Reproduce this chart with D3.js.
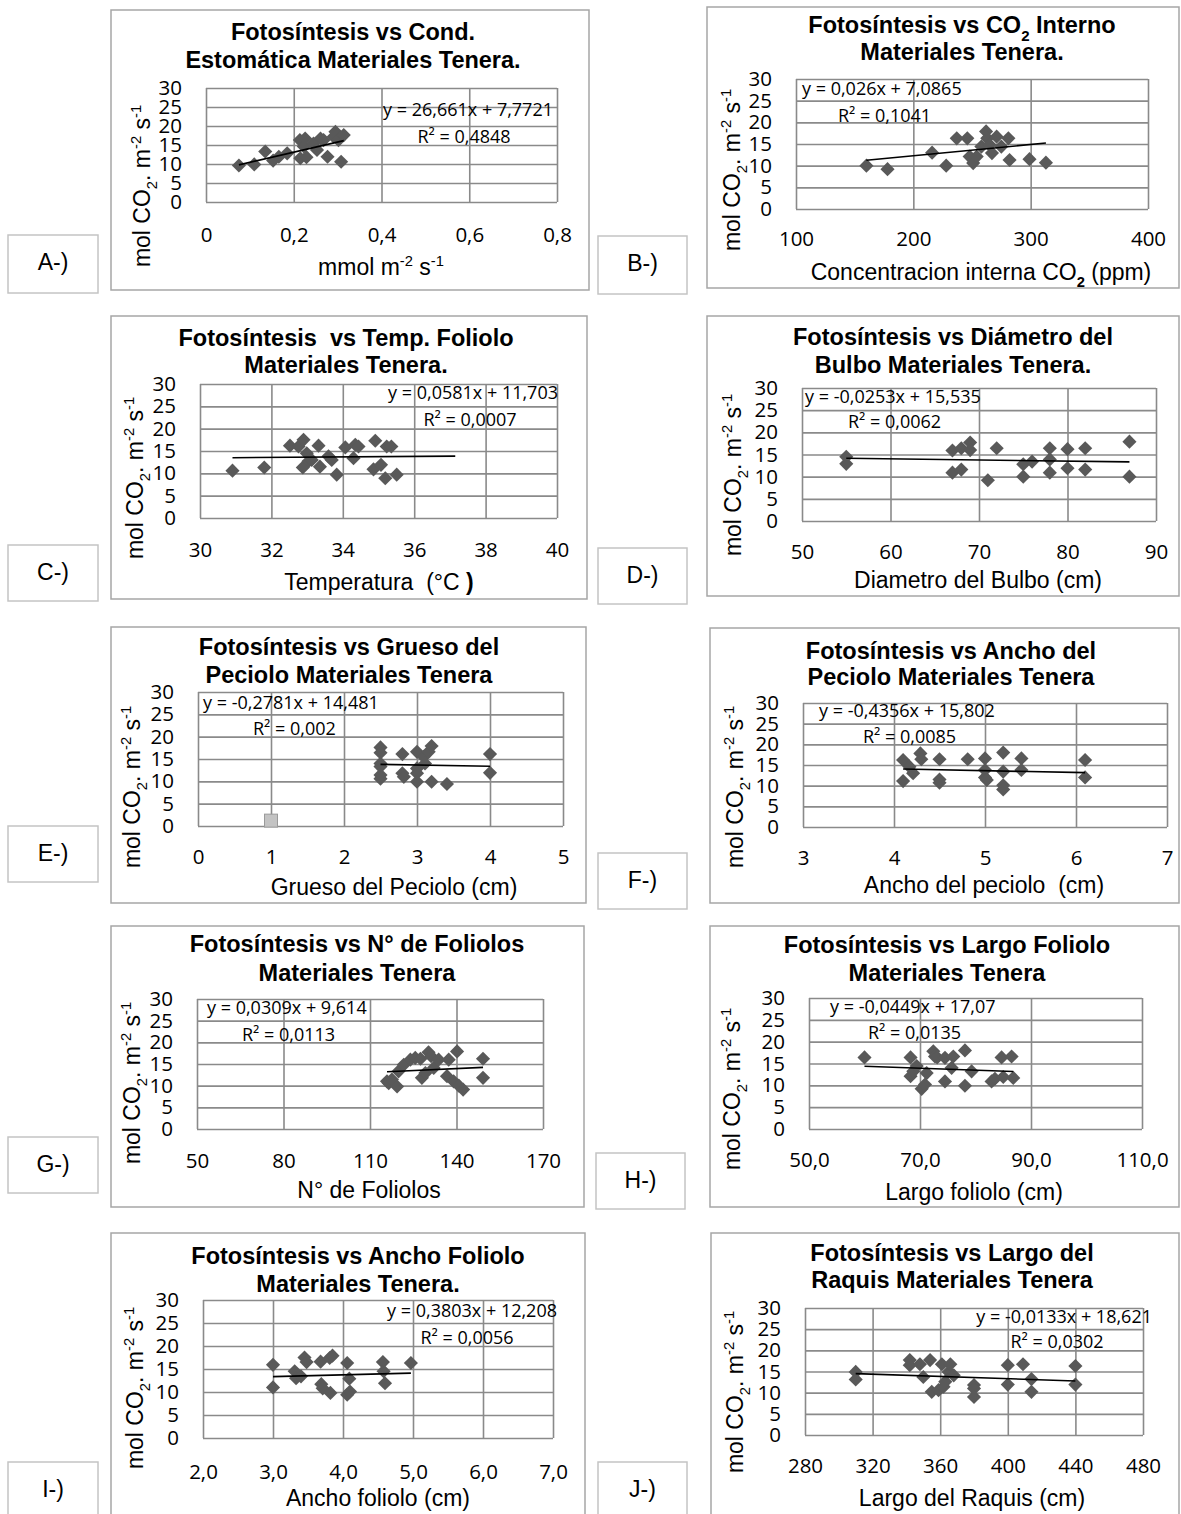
<!DOCTYPE html>
<html>
<head>
<meta charset="utf-8">
<script src="https://cdn.jsdelivr.net/npm/d3@7"></script>
<style>
  body { margin: 0; background: #fff; }
  svg { display: block; }
  text { white-space: pre; }
</style>
</head>
<body>
<svg id="fig" width="1181" height="1514"></svg>
<script>
// ---------- Data: photosynthesis (mol CO2 m-2 s-1) against each plant variable ----------
const yTicks = [0, 5, 10, 15, 20, 25, 30];

// A: stomatal conductance
const condX = [0.075, 0.11, 0.135, 0.153, 0.166, 0.185, 0.214, 0.215, 0.223, 0.226, 0.229, 0.245, 0.253, 0.261, 0.268, 0.277, 0.291, 0.295, 0.302, 0.308, 0.314];
const condY = [9.6, 9.9, 13.3, 10.9, 11.9, 12.8, 16.3, 11.5, 14.6, 16.7, 11.8, 15.4, 13.7, 16.7, 16.3, 11.9, 17.2, 18.5, 16.3, 10.6, 17.6];
const condTicks = [0, 0.2, 0.4, 0.6, 0.8];
const condTickLabels = ["0", "0,2", "0,4", "0,6", "0,8"];

// B: internal CO2
const co2X = [160, 178, 216, 228, 237, 246, 248, 251, 254, 258, 262, 263, 265, 267, 271, 275, 281, 282, 299, 313];
const co2Y = [10.0, 9.2, 13.0, 10.0, 16.3, 16.3, 12.1, 10.6, 12.1, 14.4, 17.9, 16.3, 14.8, 12.9, 16.7, 14.4, 16.3, 11.3, 11.5, 10.7];
const co2Ticks = [100, 200, 300, 400];
const co2TickLabels = ["100", "200", "300", "400"];

// C: leaflet temperature
const tempX = [30.91, 31.8, 32.52, 32.76, 32.9, 32.88, 32.99, 33.04, 33.13, 33.32, 33.36, 33.6, 33.69, 33.83, 34.07, 34.3, 34.35, 34.44, 34.86, 34.91, 35.07, 35.19, 35.23, 35.36, 35.51];
const tempY = [10.6, 11.3, 16.2, 16.0, 17.5, 11.3, 14.5, 12.7, 13.0, 16.2, 11.5, 13.8, 13.0, 9.7, 15.8, 13.4, 16.4, 16.0, 10.9, 17.3, 11.9, 8.9, 16.0, 16.0, 9.7];
const tempTicks = [30, 32, 34, 36, 38, 40];
const tempTickLabels = ["30", "32", "34", "36", "38", "40"];
const tempTrendSpan = [30.91, 37.15];

// D: bulb diameter
const bulboX = [55, 55, 67, 67, 68, 68, 69, 69, 71, 72, 75, 75, 76, 78, 78, 78, 80, 80, 82, 82, 87, 87];
const bulboY = [14.5, 12.9, 15.9, 10.9, 16.4, 11.6, 17.7, 16.0, 9.2, 16.4, 12.8, 10.0, 13.4, 16.4, 13.9, 10.9, 16.2, 11.9, 16.4, 11.6, 17.9, 10.0];
const bulboTicks = [50, 60, 70, 80, 90];
const bulboTickLabels = ["50", "60", "70", "80", "90"];

// E: petiole thickness (plus one extra point of a second series)
const gruesoX = [2.5, 2.5, 2.5, 2.5, 2.5, 2.5, 2.8, 2.8, 2.82, 3.0, 3.0, 3.0, 3.0, 3.09, 3.11, 3.16, 3.2, 3.2, 3.41, 4.0, 4.0];
const gruesoY = [17.6, 16.4, 14.0, 13.3, 11.4, 10.6, 16.1, 11.8, 11.0, 16.6, 12.9, 11.8, 9.9, 15.5, 14.0, 16.6, 17.9, 9.9, 9.4, 16.1, 11.9];
const gruesoExtraX = [1];
const gruesoExtraY = [1.2];
const gruesoTicks = [0, 1, 2, 3, 4, 5];
const gruesoTickLabels = ["0", "1", "2", "3", "4", "5"];

// F: petiole width
const anchoPecX = [4.1, 4.1, 4.17, 4.21, 4.29, 4.3, 4.5, 4.5, 4.5, 4.81, 5.0, 5.0, 5.0, 5.02, 5.2, 5.2, 5.2, 5.2, 5.4, 5.4, 6.1, 6.1];
const anchoPecY = [16.2, 11.1, 14.6, 13.0, 17.8, 16.4, 16.4, 11.5, 10.7, 16.4, 16.6, 13.8, 12.0, 11.4, 18.0, 13.4, 10.1, 9.1, 16.6, 13.8, 16.2, 12.0];
const anchoPecTicks = [3, 4, 5, 6, 7];
const anchoPecTickLabels = ["3", "4", "5", "6", "7"];

// G: number of leaflets
const foliolosX = [115.9, 116.5, 117.6, 119.4, 119.9, 121.7, 124, 125.7, 127.5, 128, 129.2, 130.3, 131.2, 132.1, 133.8, 136.7, 137.3, 139, 140.2, 140.8, 142.3, 149.2, 149.2];
const foliolosY = [11.0, 10.6, 11.4, 9.8, 13.3, 14.8, 16.0, 16.4, 16.2, 11.8, 12.9, 17.7, 16.8, 14.1, 16.0, 12.2, 16.0, 11.0, 17.9, 10.0, 9.1, 16.2, 11.8];
const foliolosTicks = [50, 80, 110, 140, 170];
const foliolosTickLabels = ["50", "80", "110", "140", "170"];

// H: leaflet length
const largoFolX = [60, 68.3, 68.3, 68.8, 69.4, 70.3, 70.9, 71.2, 72.4, 72.7, 73.1, 74.5, 74.5, 75.7, 76, 78.1, 78.1, 79.3, 82.9, 83.5, 84.7, 85, 86.5, 86.8];
const largoFolY = [16.4, 16.4, 12.1, 13.2, 14.4, 9.2, 10.2, 12.8, 17.8, 16.6, 16.4, 16.3, 10.9, 14.0, 16.6, 18.0, 9.9, 13.2, 10.9, 11.5, 16.4, 11.9, 16.6, 11.7];
const largoFolTicks = [50, 70, 90, 110];
const largoFolTickLabels = ["50,0", "70,0", "90,0", "110,0"];

// I: leaflet width
const anchoFolX = [3.0, 3.0, 3.31, 3.33, 3.4, 3.45, 3.48, 3.68, 3.69, 3.71, 3.81, 3.82, 3.85, 4.06, 4.06, 4.09, 4.1, 4.57, 4.58, 4.6, 4.97];
const anchoFolY = [15.9, 11.0, 14.5, 13.0, 13.4, 17.5, 16.5, 16.6, 11.7, 10.8, 17.4, 9.8, 17.9, 16.3, 9.4, 12.9, 10.1, 16.5, 14.5, 11.9, 16.3];
const anchoFolTicks = [2, 3, 4, 5, 6, 7];
const anchoFolTickLabels = ["2,0", "3,0", "4,0", "5,0", "6,0", "7,0"];

// J: rachis length
const raquisX = [310, 310, 342, 342, 348, 350, 354, 355, 359, 361, 362, 363, 365, 366, 368, 380, 380, 380, 400, 400, 409, 414, 414, 440, 440];
const raquisY = [14.9, 13.1, 17.7, 16.5, 16.7, 13.7, 17.7, 10.2, 10.6, 16.7, 11.4, 12.6, 14.9, 16.7, 14.1, 11.8, 11.0, 9.0, 16.5, 11.9, 16.7, 13.2, 10.2, 16.3, 11.9];
const raquisTicks = [280, 320, 360, 400, 440, 480];
const raquisTickLabels = ["280", "320", "360", "400", "440", "480"];

// Linear fits: slope, intercept, R²
const fitSlopes     = [26.661, 0.026, 0.0581, -0.0253, -0.2781, -0.4356, 0.0309, -0.0449, 0.3803, -0.0133];
const fitIntercepts = [7.7721, 7.0865, 11.703, 15.535, 14.481, 15.802, 9.614, 17.07, 12.208, 18.621];
const fitR2         = [0.4848, 0.1041, 0.0007, 0.0062, 0.002, 0.0085, 0.0113, 0.0135, 0.0056, 0.0302];

const panelLetters = ["A-)", "B-)", "C-)", "D-)", "E-)", "F-)", "G-)", "H-)", "I-)", "J-)"];
const panelTitles = [
  ["Fotosíntesis vs Cond.", "Estomática Materiales Tenera."],
  ["Fotosíntesis vs CO_{2} Interno", "Materiales Tenera."],
  ["Fotosíntesis  vs Temp. Foliolo", "Materiales Tenera."],
  ["Fotosíntesis vs Diámetro del", "Bulbo Materiales Tenera."],
  ["Fotosíntesis vs Grueso del", "Peciolo Materiales Tenera"],
  ["Fotosíntesis vs Ancho del", "Peciolo Materiales Tenera"],
  ["Fotosíntesis vs N° de Foliolos", "Materiales Tenera"],
  ["Fotosíntesis vs Largo Foliolo", "Materiales Tenera"],
  ["Fotosíntesis vs Ancho Foliolo", "Materiales Tenera."],
  ["Fotosíntesis vs Largo del", "Raquis Materiales Tenera"]
];
const xTitles = [
  "mmol m^{-2} s^{-1}",
  "Concentracion interna CO_b{2} (ppm)",
  "Temperatura  (°C *{)}",
  "Diametro del Bulbo (cm)",
  "Grueso del Peciolo (cm)",
  "Ancho del peciolo  (cm)",
  "N° de Foliolos",
  "Largo foliolo (cm)",
  "Ancho foliolo (cm)",
  "Largo del Raquis (cm)"
];
const yTitle = "mol CO_{2}. m^{-2} s^{-1}";

const seriesX = [condX, co2X, tempX, bulboX, gruesoX, anchoPecX, foliolosX, largoFolX, anchoFolX, raquisX];
const seriesY = [condY, co2Y, tempY, bulboY, gruesoY, anchoPecY, foliolosY, largoFolY, anchoFolY, raquisY];
const xTickVals = [condTicks, co2Ticks, tempTicks, bulboTicks, gruesoTicks, anchoPecTicks, foliolosTicks, largoFolTicks, anchoFolTicks, raquisTicks];
const xTickText = [condTickLabels, co2TickLabels, tempTickLabels, bulboTickLabels, gruesoTickLabels, anchoPecTickLabels, foliolosTickLabels, largoFolTickLabels, anchoFolTickLabels, raquisTickLabels];

// ---------- Layout (page pixels) ----------
// frame [x0,y0,x1,y1], plot [l,t,r,b], title centre x & line y's, tick row y,
// x-title centre, y-title centre, equation / R² anchors, panel-letter box.
const layout = [
  { frame: [111, 10, 589, 290], plot: [206, 88, 557, 202], tx: 353, ty: [32, 60], xtY: 235, xT: [381, 267], yT: [142, 186],
    eq: ["end", 553, 110], r2: ["middle", 464, 137], box: [8, 235, 90, 58] },
  { frame: [707, 7, 1179, 288], plot: [796, 79, 1148, 209], tx: 962, ty: [25, 52], xtY: 239, xT: [981, 272], yT: [732, 170],
    eq: ["start", 802, 89], r2: ["start", 838, 116], box: [598, 236, 89, 58] },
  { frame: [111, 316, 587, 599], plot: [200, 384, 557, 518], tx: 346, ty: [338, 365], xtY: 550, xT: [379, 582], yT: [135, 478],
    eq: ["end", 558, 393], r2: ["middle", 470, 420], box: [8, 545, 90, 56] },
  { frame: [707, 316, 1179, 596], plot: [802, 388, 1156, 521], tx: 953, ty: [337, 365], xtY: 552, xT: [978, 580], yT: [733, 475],
    eq: ["start", 805, 397], r2: ["start", 848, 422], box: [598, 548, 89, 56] },
  { frame: [111, 627, 586, 903], plot: [198, 692, 563, 826], tx: 349, ty: [647, 675], xtY: 857, xT: [394, 887], yT: [132, 787],
    eq: ["start", 203, 703], r2: ["start", 253, 729], box: [8, 826, 90, 56] },
  { frame: [710, 628, 1179, 903], plot: [803, 703, 1167, 827], tx: 951, ty: [651, 677], xtY: 858, xT: [984, 885], yT: [735, 787],
    eq: ["start", 819, 711], r2: ["start", 863, 737], box: [598, 853, 89, 56] },
  { frame: [111, 926, 584, 1207], plot: [197, 999, 543, 1129], tx: 357, ty: [944, 973], xtY: 1161, xT: [369, 1190], yT: [132, 1083],
    eq: ["start", 207, 1008], r2: ["start", 242, 1035], box: [8, 1137, 90, 56] },
  { frame: [710, 926, 1179, 1207], plot: [809, 998, 1142, 1129], tx: 947, ty: [945, 973], xtY: 1160, xT: [974, 1192], yT: [732, 1089],
    eq: ["start", 830, 1007], r2: ["start", 868, 1033], box: [596, 1153, 89, 56] },
  { frame: [111, 1233, 585, 1530], plot: [203, 1300, 553, 1438], tx: 358, ty: [1256, 1284], xtY: 1472, xT: [378, 1498], yT: [135, 1388],
    eq: ["end", 557, 1311], r2: ["middle", 467, 1338], box: [8, 1462, 90, 60] },
  { frame: [711, 1233, 1179, 1530], plot: [805, 1308, 1143, 1435], tx: 952, ty: [1253, 1280], xtY: 1466, xT: [972, 1498], yT: [735, 1392],
    eq: ["end", 1152, 1317], r2: ["middle", 1057, 1342], box: [598, 1462, 89, 60] }
];

// ---------- Styles ----------
const SANS = "'Liberation Sans', Arial, sans-serif";
const NUMF = "'Open Sans', sans-serif";
const GRID = "#8a8a8a";
const FRAME = "#a6a6a6";
const MARK = "#595959";

const svg = d3.select("#fig");
svg.append("rect").attr("width", 1181).attr("height", 1514).attr("fill", "#fff");

const dec = v => String(v).replace(".", ",");

// Excel-style diamond: a square turned 45°
const diamond = {
  draw(ctx, size) {
    const r = Math.sqrt(size / 2);
    ctx.moveTo(0, -r); ctx.lineTo(r, 0); ctx.lineTo(0, r); ctx.lineTo(-r, 0); ctx.closePath();
  }
};

// Text with _{sub}, _b{bold sub}, ^{sup}, *{bold} markup; the text element's
// own y holds the baseline, tspans only carry the relative shifts.
function rich(sel, str, fs) {
  const parts = str.split(/(_b?\{[^}]*\}|\^\{[^}]*\}|\*\{[^}]*\})/).filter(s => s !== "");
  let shift = 0;
  parts.forEach(p => {
    let kind = "n", t = p;
    if (p.startsWith("_b{")) { kind = "subb"; t = p.slice(3, -1); }
    else if (p.startsWith("_{")) { kind = "sub"; t = p.slice(2, -1); }
    else if (p.startsWith("^{")) { kind = "sup"; t = p.slice(2, -1); }
    else if (p.startsWith("*{")) { kind = "bold"; t = p.slice(2, -1); }
    const target = (kind === "sub" || kind === "subb") ? 0.3 * fs : kind === "sup" ? -0.42 * fs : 0;
    const ts = sel.append("tspan").text(t);
    if (target - shift !== 0) ts.attr("dy", target - shift);
    shift = target;
    if (kind !== "n" && kind !== "bold") ts.attr("font-size", fs * 0.64);
    if (kind === "bold" || kind === "subb") ts.attr("font-weight", "bold");
  });
}

layout.forEach((L, i) => {
  const g = svg.append("g");
  const [pl, pt, pr, pb] = L.plot;

  // outer chart frame
  g.append("rect")
    .attr("x", L.frame[0]).attr("y", L.frame[1])
    .attr("width", L.frame[2] - L.frame[0]).attr("height", L.frame[3] - L.frame[1])
    .attr("fill", "#fff").attr("stroke", FRAME).attr("stroke-width", 1.5);

  const xs = xTickVals[i];
  const x = d3.scaleLinear().domain([xs[0], xs[xs.length - 1]]).range([pl, pr]);
  const y = d3.scaleLinear().domain([0, 30]).range([pb, pt]);

  const numFs = 20.5;
  // y axis with full-width gridlines
  const ya = g.append("g").attr("transform", `translate(${pl},0)`)
    .call(d3.axisLeft(y).tickValues(yTicks).tickSize(-(pr - pl)).tickPadding(24).tickFormat(d => d));
  // x axis with full-height gridlines
  const xa = g.append("g").attr("transform", `translate(0,${pb})`)
    .call(d3.axisBottom(x).tickValues(xs).tickSize(-(pb - pt))
      .tickPadding(L.xtY - pb - 0.35 * numFs).tickFormat((d, k) => xTickText[i][k]));
  [ya, xa].forEach(a => {
    a.select(".domain").remove();
    a.selectAll(".tick line").attr("stroke", GRID).attr("stroke-width", 1.6);
    a.selectAll(".tick text").attr("font-family", NUMF).attr("font-size", numFs).attr("fill", "#000");
    a.attr("font-family", null).attr("font-size", null);
  });

  // scatter points
  g.append("g").selectAll("path")
    .data(d3.zip(seriesX[i], seriesY[i]))
    .join("path")
    .attr("transform", d => `translate(${x(d[0])},${y(d[1])})`)
    .attr("d", d3.symbol(diamond, 100)())
    .attr("fill", MARK);

  if (i === 4) {
    g.append("g").selectAll("rect")
      .data(d3.zip(gruesoExtraX, gruesoExtraY))
      .join("rect")
      .attr("x", d => x(d[0]) - 6.5).attr("y", d => y(d[1]) - 6.5)
      .attr("width", 13).attr("height", 13)
      .attr("fill", "#c3c3c3").attr("stroke", "#9a9a9a").attr("stroke-width", 1);
  }

  // linear trend line
  const m = fitSlopes[i], b = fitIntercepts[i];
  const span = i === 2 ? tempTrendSpan : d3.extent(seriesX[i]);
  g.append("line")
    .attr("x1", x(span[0])).attr("y1", y(m * span[0] + b))
    .attr("x2", x(span[1])).attr("y2", y(m * span[1] + b))
    .attr("stroke", "#000").attr("stroke-width", 1.6);

  // equation and R²
  const eqFs = 18;
  g.append("text").attr("text-anchor", L.eq[0]).attr("x", L.eq[1]).attr("y", L.eq[2] + 0.36 * eqFs)
    .attr("font-family", NUMF).attr("font-size", eqFs)
    .text(`y = ${dec(m)}x + ${dec(b)}`);
  g.append("text").attr("text-anchor", L.r2[0]).attr("x", L.r2[1]).attr("y", L.r2[2] + 0.36 * eqFs)
    .attr("font-family", NUMF).attr("font-size", eqFs)
    .text(`R² = ${dec(fitR2[i])}`);

  // two-line bold title
  const tFs = 23.5;
  panelTitles[i].forEach((line, k) => {
    const t = g.append("text").attr("text-anchor", "middle")
      .attr("x", L.tx).attr("y", L.ty[k] + 0.36 * tFs)
      .attr("font-family", SANS).attr("font-weight", "bold").attr("font-size", tFs);
    rich(t, line, tFs);
  });

  // axis titles
  const aFs = 23;
  const xt = g.append("text").attr("text-anchor", "middle")
    .attr("x", L.xT[0]).attr("y", L.xT[1] + 0.36 * aFs)
    .attr("font-family", SANS).attr("font-size", aFs);
  rich(xt, xTitles[i], aFs);
  const yt = g.append("text").attr("text-anchor", "middle")
    .attr("transform", `translate(${L.yT[0]},${L.yT[1]}) rotate(-90)`)
    .attr("x", 0).attr("y", 0.36 * aFs)
    .attr("font-family", SANS).attr("font-size", aFs);
  rich(yt, yTitle, aFs);

  // panel letter box
  const bx = L.box;
  svg.append("rect").attr("x", bx[0]).attr("y", bx[1]).attr("width", bx[2]).attr("height", bx[3])
    .attr("fill", "#fff").attr("stroke", "#c4c4c4").attr("stroke-width", 1.5);
  svg.append("text").attr("text-anchor", "middle")
    .attr("x", bx[0] + bx[2] / 2).attr("y", bx[1] + 27 + 0.36 * 23)
    .attr("font-family", SANS).attr("font-size", 23).text(panelLetters[i]);
});
</script>
</body>
</html>
